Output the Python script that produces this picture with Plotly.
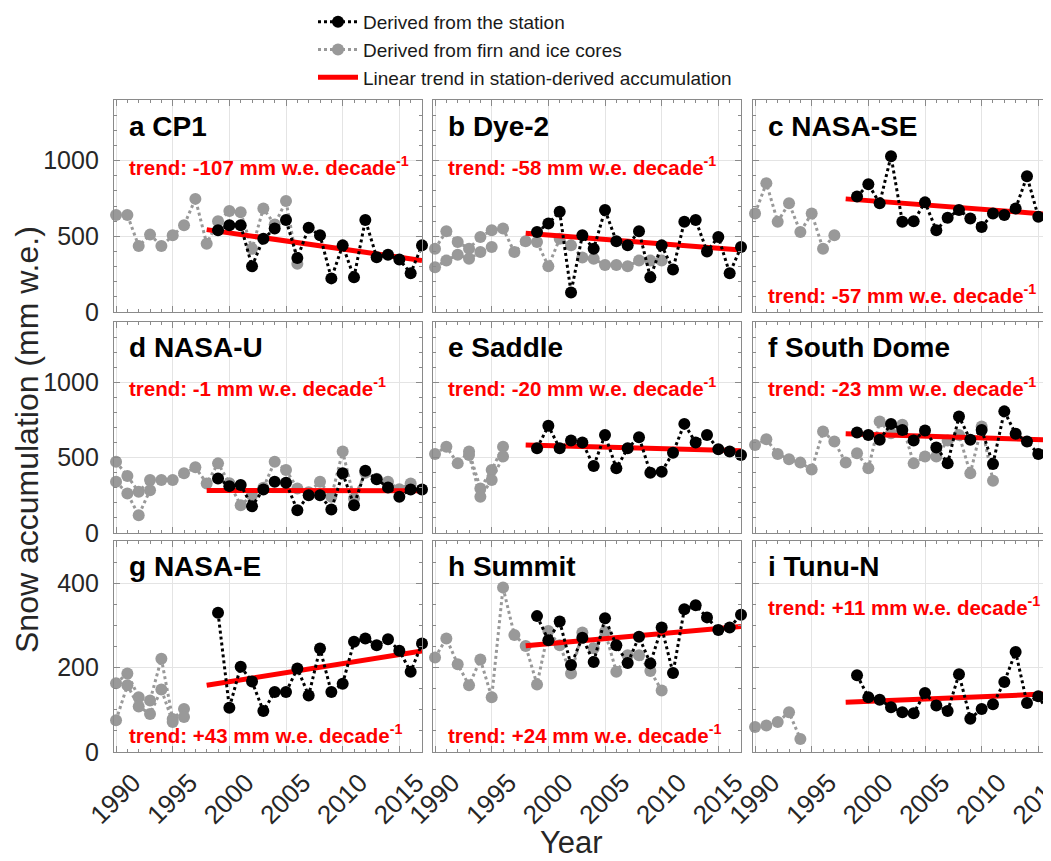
import plotly.graph_objects as go

# ---------------- data ----------------
years_station = list(range(1999, 2018))

cp1_station = [540, 573, 573, 302, 484, 551, 607, 356, 556, 507, 222, 440, 229, 607, 362, 378, 347, 256, 440]
dye2_station = [529, 584, 662, 129, 507, 418, 673, 467, 440, 533, 229, 440, 280, 596, 607, 400, 496, 256, 429]
nasase_station = [762, 844, 718, 1029, 596, 600, 724, 540, 622, 673, 618, 562, 651, 640, 684, 896, 629, 673, 670]
nasau_station = [362, 311, 318, 178, 289, 340, 333, 151, 251, 251, 156, 396, 184, 413, 356, 302, 240, 289, 289]
saddle_station = [562, 711, 562, 613, 600, 444, 651, 429, 562, 636, 400, 407, 533, 724, 600, 651, 556, 540, 518]
southdome_station = [667, 651, 618, 724, 684, 613, 680, 567, 462, 773, 618, 684, 458, 807, 658, 607, 524, 573, 600]
nasae_station = [330, 105, 202, 167, 97, 142, 142, 198, 134, 245, 142, 162, 261, 269, 253, 267, 240, 190, 257]
summit_station = [322, 265, 309, 206, 271, 213, 317, 253, 211, 273, 210, 295, 187, 338, 348, 319, 289, 295, 325]
tunun_station = [182, 130, 124, 106, 94, 92, 140, 110, 97, 184, 79, 102, 113, 166, 237, 116, 132, 89, 120]

cp1_core_years = list(range(1990, 2007))
cp1_core = [640, 640, 436, 511, 436, 507, 573, 747, 451, 600, 667, 658, 418, 684, 578, 733, 318]

dye2_core1_years = list(range(1990, 2011))
dye2_core1 = [418, 533, 462, 418, 496, 540, 551, 396, 467, 462, 302, 484, 440, 360, 351, 311, 311, 302, 340, 340, 340]
dye2_core2_years = list(range(1990, 1996))
dye2_core2 = [296, 340, 378, 351, 396, 429]

nasase_core_years = list(range(1990, 1998))
nasase_core = [651, 851, 596, 718, 529, 651, 418, 507]

nasau_core1_years = list(range(1990, 2017))
nasau_core1 = [473, 378, 273, 351, 351, 351, 396, 436, 329, 462, 330, 184, 250, 300, 473, 418,
               296, 270, 340, 240, 540, 229, 400, 360, 340, 290, 329]
nasau_core2_years = list(range(1990, 1994))
nasau_core2 = [340, 262, 118, 284]

saddle_core1_years = list(range(1990, 1997))
saddle_core1 = [524, 573, 462, 540, 296, 418, 573]
saddle_core2_years = list(range(1993, 1997))
saddle_core2 = [518, 240, 351, 507]

southdome_core_years = list(range(1990, 2012))
southdome_core = [584, 622, 524, 489, 467, 422, 673, 607, 467, 529, 429, 740, 662, 718, 462, 507,
                  507, 613, 651, 396, 707, 347]

nasae_core1_years = list(range(1990, 1997))
nasae_core1 = [163, 186, 130, 122, 221, 78, 102]
nasae_core2_years = list(range(1990, 1997))
nasae_core2 = [75, 158, 108, 90, 148, 71, 83]

summit_core_years = list(range(1990, 2011))
summit_core = [224, 269, 208, 158, 219, 130, 390, 277, 251, 160, 287, 253, 186, 283, 246, 285,
               190, 229, 229, 192, 146]

tunun_core_years = list(range(1990, 1995))
tunun_core = [59, 63, 71, 94, 31]

# trend lines: value at the start year and rate in mm w.e. per decade
trend_years = [1998, 2017]
trend_start = [544, 520, 747, 282, 584, 658, 158, 252, 118]
trend_rate = [-107, -58, -57, -1, -20, -23, 43, 24, 11]

panel_letters = ["a", "b", "c", "d", "e", "f", "g", "h", "i"]
panel_names = ["CP1", "Dye-2", "NASA-SE", "NASA-U", "Saddle", "South Dome", "NASA-E", "Summit", "Tunu-N"]
trend_label_pos = ["top", "top", "bottom", "top", "top", "top", "bottom", "bottom", "top"]

station_series = [cp1_station, dye2_station, nasase_station, nasau_station, saddle_station,
                  southdome_station, nasae_station, summit_station, tunun_station]
core_series = [
    [(cp1_core_years, cp1_core)],
    [(dye2_core1_years, dye2_core1), (dye2_core2_years, dye2_core2)],
    [(nasase_core_years, nasase_core)],
    [(nasau_core1_years, nasau_core1), (nasau_core2_years, nasau_core2)],
    [(saddle_core1_years, saddle_core1), (saddle_core2_years, saddle_core2)],
    [(southdome_core_years, southdome_core)],
    [(nasae_core1_years, nasae_core1), (nasae_core2_years, nasae_core2)],
    [(summit_core_years, summit_core)],
    [(tunun_core_years, tunun_core)],
]

x_tick_vals = [1990, 1995, 2000, 2005, 2010, 2015]
y_ticks_big = [0, 500, 1000]
y_ticks_small = [0, 200, 400]

# ---------------- layout geometry ----------------
# the page body has an 8 px margin, so the figure is drawn 8 px lower/right;
# geometry below is given in window pixels and converted to figure pixels.
OFF = 8
WIN_W, WIN_H = 1051, 861
W, H = WIN_W - OFF, WIN_H - OFF
col_px = [(114, 422), (433, 741), (753, 1051)]
row_px = [(100, 312), (322, 533), (541, 752)]
x_range_full = [1989.82, 2017.0]
x_range_cut = [1989.82, 2016.12]


def px_x(p):
    return (p - OFF) / W


def px_y(p):
    return 1 - (p - OFF) / H


FONT = "Liberation Sans, Arial, Helvetica, sans-serif"
FRAME = "#8a8a8a"
GRID = "#e4e4e4"
GRAYC = "#999999"

fig = go.Figure()
layout_axes = {}
annotations = []

for k in range(9):
    r, c = divmod(k, 3)
    suffix = "" if k == 0 else str(k + 1)
    xname, yname = "x" + suffix, "y" + suffix

    # core (gray) series
    for j, (cy, cv) in enumerate(core_series[k]):
        fig.add_trace(go.Scatter(
            x=cy, y=cv, mode="lines+markers", xaxis=xname, yaxis=yname,
            line=dict(color=GRAYC, width=3, dash="dot"),
            marker=dict(color=GRAYC, size=12),
            name="Derived from firn and ice cores", legendgroup="core", legendrank=2,
            showlegend=(k == 0 and j == 0), cliponaxis=False))

    # trend line
    ty = [trend_start[k] + trend_rate[k] / 10.0 * (t - trend_years[0]) for t in trend_years]
    fig.add_trace(go.Scatter(
        x=trend_years, y=ty, mode="lines", xaxis=xname, yaxis=yname,
        line=dict(color="#ff0000", width=5),
        name="Linear trend in station-derived accumulation", legendgroup="trend", legendrank=3,
        showlegend=(k == 0)))

    # station series
    fig.add_trace(go.Scatter(
        x=years_station, y=station_series[k], mode="lines+markers", xaxis=xname, yaxis=yname,
        line=dict(color="black", width=3, dash="dot"),
        marker=dict(color="black", size=12),
        name="Derived from the station", legendgroup="station", legendrank=1,
        showlegend=(k == 0), cliponaxis=(c == 2)))

    x0, x1 = col_px[c]
    y0, y1 = row_px[r]
    xdom = [px_x(x0), min(1.0, px_x(x1))]
    ydom = [px_y(y1), px_y(y0)]

    xa = dict(
        domain=xdom, anchor=yname, range=x_range_cut if c == 2 else x_range_full,
        automargin=False,
        tickmode="array", tickvals=x_tick_vals,
        showline=True, linecolor=FRAME, linewidth=1.3, mirror="ticks",
        ticks="inside", ticklen=6, tickwidth=1.2, tickcolor=FRAME,
        showgrid=True, gridcolor=GRID, gridwidth=1, zeroline=False,
        minor=dict(ticks="inside", dtick=1, tick0=1990, ticklen=3, tickcolor=FRAME, tickwidth=1, showgrid=False),
        showticklabels=(r == 2), tickangle=-45, ticklabeloverflow="allow",
        tickfont=dict(family=FONT, size=26, color="#262626"),
        ticklabelshift=17, ticklabelstandoff=4,
    )
    small = (r == 2)
    ya = dict(
        domain=ydom, anchor=xname, range=[0, 500] if small else [0, 1400],
        automargin=False,
        tickmode="array", tickvals=y_ticks_small if small else y_ticks_big,
        showline=True, linecolor=FRAME, linewidth=1.3, mirror=(False if c == 2 else "ticks"),
        ticks="inside", ticklen=6, tickwidth=1.2, tickcolor=FRAME,
        showgrid=True, gridcolor=GRID, gridwidth=1, zeroline=False,
        minor=dict(ticks="inside", dtick=50 if small else 100, ticklen=3, tickcolor=FRAME, tickwidth=1, showgrid=False),
        showticklabels=(c == 0),
        tickfont=dict(family=FONT, size=25, color="#262626"),
        ticklabelstandoff=9,
    )
    layout_axes["xaxis" + suffix] = xa
    layout_axes["yaxis" + suffix] = ya

    # panel title
    annotations.append(dict(
        xref=xname + " domain", yref=yname + " domain", x=0.042, y=0.877,
        xanchor="left", yanchor="middle", showarrow=False,
        text="<b>%s %s</b>" % (panel_letters[k], panel_names[k]),
        font=dict(family=FONT, size=28, color="black")))
    # trend label
    rate_txt = "%+d" % trend_rate[k]
    annotations.append(dict(
        xref=xname + " domain", yref=yname + " domain", x=0.042,
        y=0.69 if trend_label_pos[k] == "top" else 0.085,
        xanchor="left", yanchor="middle", showarrow=False,
        text="<b>trend: %s mm w.e. decade<sup>-1</sup></b>" % rate_txt,
        font=dict(family=FONT, size=20.5, color="#ff0000")))

# axis titles
annotations.append(dict(
    xref="paper", yref="paper", x=px_x(27), y=px_y(440), xanchor="center", yanchor="middle",
    showarrow=False, textangle=-90, text="Snow accumulation (mm w.e.)",
    font=dict(family=FONT, size=32, color="#262626")))
annotations.append(dict(
    xref="paper", yref="paper", x=px_x(571), y=px_y(842), xanchor="center", yanchor="middle",
    showarrow=False, text="Year",
    font=dict(family=FONT, size=31, color="#262626")))

fig.update_layout(
    width=W, height=H,
    margin=dict(l=0, r=0, t=0, b=0, autoexpand=False),
    paper_bgcolor="white", plot_bgcolor="white",
    font=dict(family=FONT, color="#262626"),
    showlegend=True,
    legend=dict(
        x=px_x(313), y=px_y(3), xanchor="left", yanchor="top",
        bgcolor="rgba(0,0,0,0)", borderwidth=0,
        font=dict(family=FONT, size=19, color="#1a1a1a"),
        traceorder="normal", tracegroupgap=0, itemwidth=40,
    ),
    annotations=annotations,
    **layout_axes,
)

fig.write_html("out.html")
